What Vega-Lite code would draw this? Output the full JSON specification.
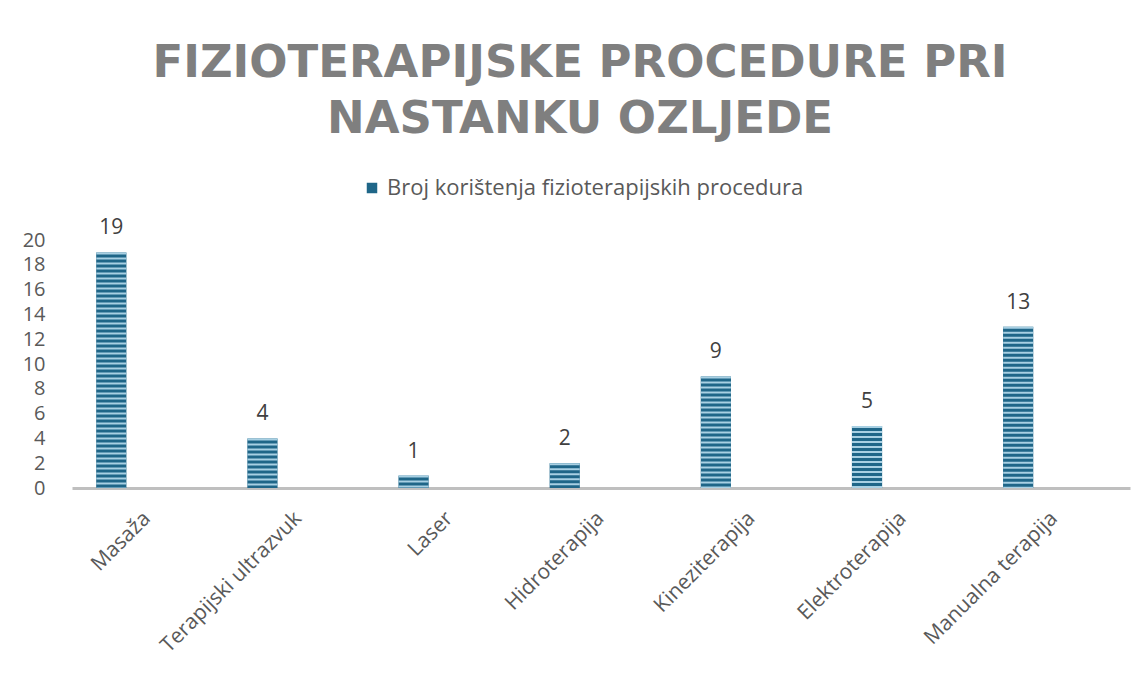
{
  "$schema": "https://vega.github.io/schema/vega-lite/v6.json",
  "autosize": {"type": "none"},
  "width": 1058,
  "height": 248,
  "padding": {"left": 72, "top": 240, "right": 15, "bottom": 187},
  "background": "white",
  "config": {"view": {"stroke": null}, "font": "Open Sans"},
  "title": {
    "text": ["FIZIOTERAPIJSKE PROCEDURE PRI", "NASTANKU OZLJEDE"],
    "font": "DejaVu Sans",
    "fontSize": 45,
    "fontWeight": "bold",
    "color": "#7f7f7f",
    "lineHeight": 56,
    "anchor": "middle",
    "frame": "group",
    "orient": "top",
    "offset": 35,
    "dx": -21
  },
  "data": {
    "values": [
      {"procedura": "Masaža", "broj": 19},
      {"procedura": "Terapijski ultrazvuk", "broj": 4},
      {"procedura": "Laser", "broj": 1},
      {"procedura": "Hidroterapija", "broj": 2},
      {"procedura": "Kineziterapija", "broj": 9},
      {"procedura": "Elektroterapija", "broj": 5},
      {"procedura": "Manualna terapija", "broj": 13}
    ]
  },
  "encoding": {
    "x": {
      "field": "procedura",
      "type": "nominal",
      "sort": null,
      "scale": {"paddingInner": 0.8, "paddingOuter": 0.4, "align": 0.2},
      "axis": {
        "title": null,
        "labelAngle": -45,
        "labelAlign": "right",
        "labelBaseline": "middle",
        "labelFontSize": 21,
        "labelColor": "#595959",
        "labelOffset": 36,
        "labelPadding": 27,
        "ticks": false,
        "domainColor": "#bfbfbf",
        "domainWidth": 3,
        "grid": false,
        "labelLimit": 400
      }
    },
    "y": {
      "field": "broj",
      "type": "quantitative",
      "scale": {"domain": [0, 20], "nice": false},
      "axis": {
        "title": null,
        "values": [0, 2, 4, 6, 8, 10, 12, 14, 16, 18, 20],
        "labelFontSize": 20,
        "labelColor": "#595959",
        "labelPadding": 27,
        "ticks": false,
        "domain": false,
        "grid": false
      }
    }
  },
  "layer": [
    {
      "mark": {"type": "bar"},
      "encoding": {
        "color": {
          "datum": "Broj korištenja fizioterapijskih procedura",
          "type": "nominal",
          "scale": {"range": ["#1f6688"]},
          "legend": {
            "title": null,
            "orient": "none",
            "legendX": 289,
            "legendY": -63,
            "symbolType": "square",
            "symbolSize": 110,
            "symbolStrokeWidth": 0,
            "labelFontSize": 22,
            "labelColor": "#595959",
            "labelLimit": 600,
            "labelOffset": 4
          }
        }
      }
    },
    {
      "mark": {"type": "rule", "stroke": "#a8d0e3", "strokeWidth": 30, "strokeDash": [2, 3], "strokeCap": "butt"},
      "encoding": {"y2": {"datum": 0}}
    },
    {
      "mark": {"type": "text", "baseline": "middle", "dy": -24, "fontSize": 21, "color": "#404040"},
      "encoding": {"text": {"field": "broj", "type": "quantitative"}}
    }
  ]
}
